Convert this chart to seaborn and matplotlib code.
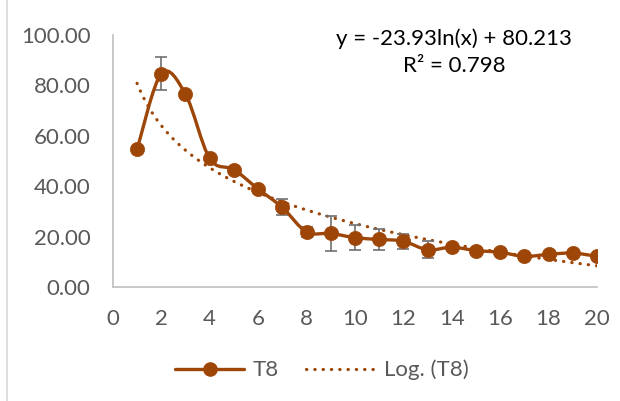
"""
Recreate the T8 decay chart with its logarithmic trendline.
"""
import numpy as np
import matplotlib.pyplot as plt
import seaborn as sns
from matplotlib.path import Path
from matplotlib.patches import PathPatch
from matplotlib.lines import Line2D

DAYS = [1, 2, 3, 4, 5, 6, 7, 8, 9, 10, 11, 12, 13, 14, 15, 16, 17, 18, 19, 20]
T8 = [54.6, 84.6, 76.5, 51.0, 46.6, 38.9, 31.6, 21.9, 21.3, 19.6,
      18.9, 18.2, 14.8, 15.8, 14.5, 13.8, 12.2, 13.0, 13.5, 12.2]
T8_ERR = [0.8, 6.6, 1.0, 1.0, 1.0, 1.0, 3.2, 2.0, 7.0, 5.0,
          4.2, 3.0, 3.3, 1.0, 1.0, 1.0, 0.8, 0.8, 0.8, 0.8]
EQUATION = "y = -23.93ln(x) + 80.213"
R_SQUARED = "R² = 0.798"
Y_TICKS = [0, 20, 40, 60, 80, 100]
X_TICKS = [0, 2, 4, 6, 8, 10, 12, 14, 16, 18, 20]

COLOR = "#9E4608"
ERR_COLOR = "#6f6f6f"
TEXT_COLOR = "#595959"
SPINE_COLOR = "#bfbfbf"


def smooth_path(xs, ys):
    """Excel-style smoothed line: Catmull-Rom segments as cubic Beziers."""
    pts = np.column_stack([xs, ys]).astype(float)
    n = len(pts)
    verts = [pts[0]]
    codes = [Path.MOVETO]
    for i in range(n - 1):
        p0 = pts[i - 1] if i > 0 else pts[i]
        p1, p2 = pts[i], pts[i + 1]
        p3 = pts[i + 2] if i + 2 < n else pts[i + 1]
        verts += [p1 + (p2 - p0) / 6, p2 - (p3 - p1) / 6, p2]
        codes += [Path.CURVE4] * 3
    return Path(verts, codes)


sns.set_theme(style="white")
plt.rcParams["font.family"] = ["Lato", "DejaVu Sans"]

fig = plt.figure(figsize=(6.2, 4.01), dpi=100)
ax = fig.add_axes([0.182, 0.284, 0.781, 0.629])

# logarithmic trendline (least squares on ln x)
sns.regplot(x=np.array(DAYS), y=np.array(T8), logx=True, scatter=False, ci=None,
            ax=ax, line_kws=dict(color=COLOR, lw=2.3, linestyle=(0, (0.1, 2.5)),
                                 dash_capstyle="round", zorder=2))

ax.errorbar(DAYS, T8, yerr=T8_ERR, fmt="none", ecolor=ERR_COLOR,
            elinewidth=1.2, capsize=4.5, capthick=1.2, zorder=3)
ax.add_patch(PathPatch(smooth_path(DAYS, T8), facecolor="none",
                       edgecolor=COLOR, lw=2.4, zorder=4))
sns.scatterplot(x=DAYS, y=T8, ax=ax, color=COLOR, s=105, edgecolor=COLOR,
                linewidth=0.5, zorder=5)

ax.set_xlim(0, 20)
ax.set_ylim(0, 100)
ax.set_xticks(X_TICKS)
ax.set_yticks(Y_TICKS)
ax.set_yticklabels([f"{v:.2f}" for v in Y_TICKS])
ax.tick_params(axis="both", length=0, labelsize=16, colors=TEXT_COLOR)
ax.tick_params(axis="x", pad=16)
ax.tick_params(axis="y", pad=16)
ax.set_xlabel("")
ax.set_ylabel("")
for side in ["top", "right"]:
    ax.spines[side].set_visible(False)
for side in ["left", "bottom"]:
    ax.spines[side].set_color(SPINE_COLOR)
    ax.spines[side].set_linewidth(1.2)

ax.text(0.705, 0.985, EQUATION, transform=ax.transAxes, ha="center", va="center",
        fontsize=16, color="black")
ax.text(0.705, 0.875, R_SQUARED, transform=ax.transAxes, ha="center", va="center",
        fontsize=16, color="black")

handles = [
    Line2D([], [], color=COLOR, lw=2.4, marker="o", markersize=9.5),
    Line2D([], [], color=COLOR, lw=2.3, linestyle=(0, (0.1, 2.5)),
           dash_capstyle="round"),
]
fig.legend(handles, ["T8", "Log. (T8)"], loc="center", bbox_to_anchor=(0.519, 0.077),
           ncol=2, frameon=False, fontsize=16, handlelength=3.1,
           columnspacing=1.2, handletextpad=0.4, labelcolor=TEXT_COLOR)

fig.add_artist(Line2D([7 / 620, 7 / 620], [0, 1], transform=fig.transFigure,
                      color="#d9d9d9", lw=1.2))

fig.savefig("out.png", dpi=100)
plt.close()
